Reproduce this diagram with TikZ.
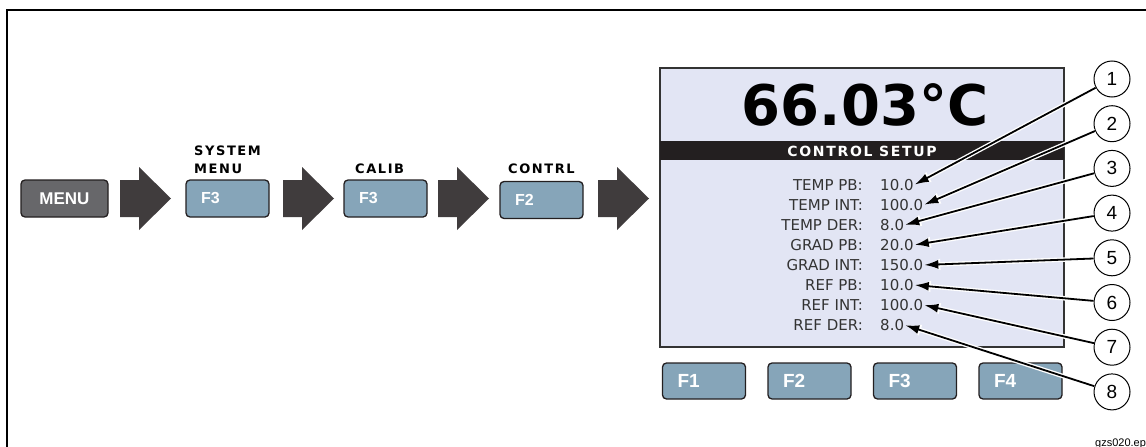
\documentclass[tikz,border=0pt]{standalone}
\usepackage{fontspec}
\setmainfont{DejaVu Sans}
\newfontfamily\arialfont{Liberation Sans}
\newfontfamily\spacedfont[LetterSpace=12]{DejaVu Sans}
\usetikzlibrary{arrows.meta}
\definecolor{keyblue}{HTML}{86A5B9}
\definecolor{menugray}{HTML}{67676A}
\definecolor{arrowgray}{HTML}{403C3D}
\definecolor{lcdfill}{HTML}{E2E5F4}
\definecolor{bandblack}{HTML}{231F20}
\tikzset{
  keybox/.style={draw=bandblack, line width=1.3pt, rounded corners=4pt, fill=keyblue,
    text=white, font=\arialfont\bfseries\fontsize{16}{16}\selectfont,
    minimum height=37pt, text width=53pt, inner xsep=15pt, align=left},
  menukey/.style={keybox, fill=menugray, align=center, text width=57pt,
    font=\arialfont\bfseries\fontsize{17}{17}\selectfont},
  softkey/.style={keybox, font=\arialfont\bfseries\fontsize{19}{19}\selectfont, minimum height=36pt},
  steplabel/.style={anchor=south west, inner sep=0pt, align=left,
    font=\spacedfont\bfseries\fontsize{13}{18}\selectfont},
  param/.style={anchor=base east, inner sep=0pt, text=black!80, font=\fontsize{15}{15}\selectfont},
  value/.style={anchor=base west, inner sep=1pt, text=black!80, font=\fontsize{15}{15}\selectfont},
  callout/.style={circle, draw, line width=1pt, fill=white, minimum size=36pt, inner sep=0pt,
    font=\arialfont\fontsize{19}{19}\selectfont},
  pointer/.style={line width=1.8pt, -{Latex[length=14pt,width=9pt]},
    preaction={draw=white, line width=4.5pt, -{Latex[length=16pt,width=12pt]}}},
}
\begin{document}
\begin{tikzpicture}[x=1pt,y=-1pt]
  \useasboundingbox (0,0) rectangle (1146,447);
  \clip (0,0) rectangle (1146,447);
  % frame
  \draw[line width=2pt] (7,450) -- (7,10) -- (1150,10);
  % key sequence
  \node[menukey] (menu) at (64.5,198.5) {MENU};
  \node[keybox] (sysf3) at (227.5,198.5) {F3};
  \node[keybox] (calf3) at (385.5,198.5) {F3};
  \node[keybox] (conf2) at (541.5,200) {F2};
  \node[steplabel] (syslbl) at (194,174) {SYSTEM\\MENU};
  \node[steplabel] (callbl) at (355,174) {CALIB};
  \node[steplabel] (conlbl) at (508,174) {CONTRL};
  \foreach \x in {120,283,438,598}
    \fill[arrowgray] (\x,180) -- (\x+19,180) -- (\x+19,167) -- (\x+51,198.5)
      -- (\x+19,230) -- (\x+19,217) -- (\x,217) -- cycle;
  % display
  \node[draw=black!80, line width=1.3pt, fill=lcdfill, minimum width=404pt,
    minimum height=279pt, inner sep=0pt] (lcd) at (862,207.5) {};
  \fill[bandblack] (660,141) rectangle (1064,160);
  \node[anchor=base, inner sep=0pt, font=\bfseries\fontsize{56}{56}\selectfont] (temp) at (865,125) {66.03°C};
  \node[inner sep=0pt, text=white, font=\spacedfont\bfseries\fontsize{14}{14}\selectfont] (title) at (862,151) {CONTROL SETUP};
  \foreach \lbl/\val [count=\i] in {TEMP PB:/10.0, TEMP INT:/100.0, TEMP DER:/8.0,
      GRAD PB:/20.0, GRAD INT:/150.0, REF PB:/10.0, REF INT:/100.0, REF DER:/8.0} {
    \node[param] (p\i) at (863,190+20.1*\i-20.1) {\lbl};
    \node[value] (v\i) at (879,190+20.1*\i-20.1) {\val};
  }
  % soft keys
  \foreach \i in {1,...,4}
    \node[softkey] (f\i) at (704+105.5*\i-105.5,381) {F\i};
  % callouts
  \foreach \i in {1,...,8} {
    \node[callout] (c\i) at (1112,79+44.7*\i-44.7) {\i};
    \draw[pointer] (c\i) -- (v\i.east);
  }
  \node[anchor=base west, inner sep=0pt, font=\arialfont\fontsize{11}{11}\selectfont] (figid) at (1095,446) {gzs020.eps};
\end{tikzpicture}
\end{document}
